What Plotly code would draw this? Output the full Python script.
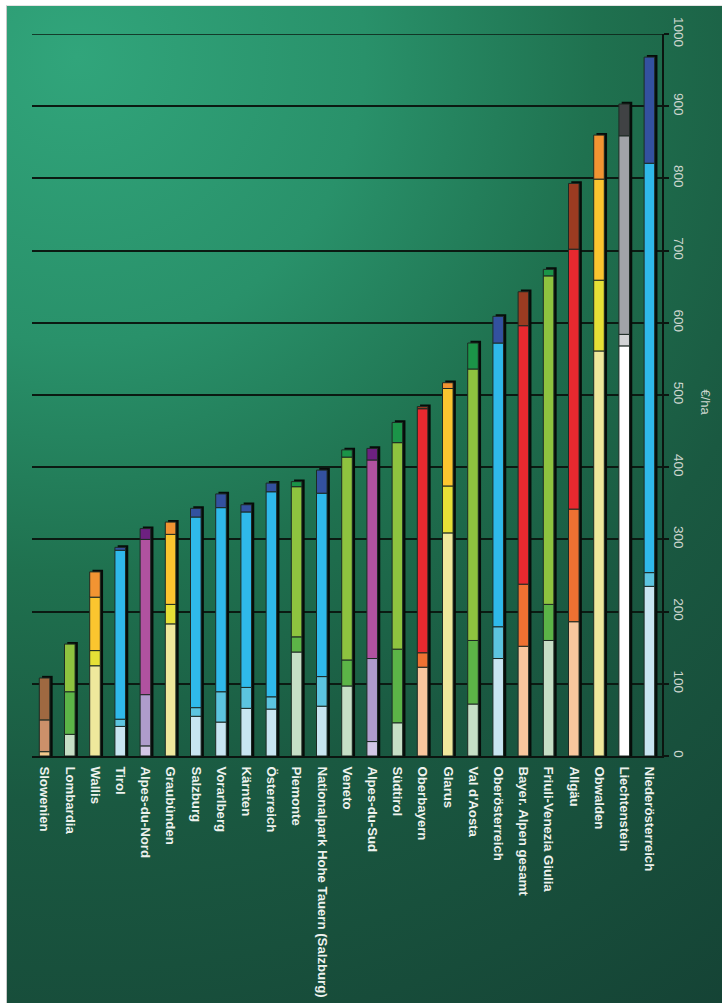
import base64
import plotly.graph_objects as go

# ---------------- data ----------------
categories = [
    "Slowenien", "Lombardia", "Wallis", "Tirol", "Alpes-du-Nord", "Graubünden",
    "Salzburg", "Vorarlberg", "Kärnten", "Österreich", "Piemonte",
    "Nationalpark Hohe Tauern (Salzburg)", "Veneto", "Alpes-du-Sud", "Südtirol",
    "Oberbayern", "Glarus", "Val d'Aosta", "Oberösterreich", "Bayer. Alpen gesamt",
    "Friuli-Venezia Giulia", "Allgäu", "Obwalden", "Liechtenstein", "Niederösterreich",
]
# country group of each region (selects the colour family)
groups = [
    "SI", "IT", "CH", "AT", "FR", "CH", "AT", "AT", "AT", "AT", "IT",
    "AT", "IT", "FR", "IT", "BY", "CH", "IT", "AT", "BY",
    "IT", "BY", "CH", "LI", "AT",
]
# stacked components (€/ha), bottom to top
part1 = [6, 30, 125, 41, 14, 183, 55, 47, 66, 65, 144, 69, 97, 20, 46, 123, 309, 72, 135, 152, 160, 186, 561, 568, 235]
part2 = [44, 59, 21, 10, 71, 27, 12, 42, 29, 17, 21, 41, 36, 115, 102, 20, 65, 88, 44, 86, 50, 156, 98, 16, 19]
part3 = [58, 66, 74, 234, 215, 97, 264, 255, 243, 284, 208, 254, 281, 275, 286, 338, 135, 376, 393, 358, 455, 360, 140, 275, 567]
part4 = [0, 0, 35, 4, 15, 17, 12, 19, 10, 12, 7, 32, 10, 16, 28, 3, 8, 36, 37, 47, 9, 91, 61, 44, 147]

y_ticks = [0, 100, 200, 300, 400, 500, 600, 700, 800, 900, 1000]
y_title = "€/ha"

palette = {
    "AT": ["#c8e5f1", "#5cc4df", "#2fb9ea", "#33519f"],
    "CH": ["#efe89c", "#e6e036", "#fbc52f", "#f29432"],
    "IT": ["#c6dfc6", "#5cb447", "#8ec33f", "#1b9448"],
    "FR": ["#d2c6e6", "#ae9ccb", "#b0529f", "#6d2181"],
    "BY": ["#f8c69e", "#ee7132", "#e8292f", "#9b3b21"],
    "SI": ["#f1c98c", "#cb906a", "#9f6941", "#9f6941"],
    "LI": ["#ffffff", "#d2d3d5", "#a1a3a8", "#404244"],
}

# ---------------- figure ----------------
W, H = 722, 1003
ML, MR, MT, MB = 32, 60, 34, 247
PW, PH = W - ML - MR, H - MT - MB

svg = (
    '<svg xmlns="http://www.w3.org/2000/svg" width="715" height="997" viewBox="0 0 715 997" '
    'preserveAspectRatio="none">'
    '<defs><radialGradient id="g" cx="70" cy="50" r="1150" gradientUnits="userSpaceOnUse">'
    '<stop offset="0" stop-color="#31a57b"/>'
    '<stop offset="0.25" stop-color="#29916a"/>'
    '<stop offset="0.45" stop-color="#1f714f"/>'
    '<stop offset="0.65" stop-color="#1a5941"/>'
    '<stop offset="1" stop-color="#154335"/>'
    '</radialGradient></defs>'
    '<rect width="715" height="997" fill="url(#g)"/></svg>'
)
bg_uri = "data:image/svg+xml;base64," + base64.b64encode(svg.encode()).decode()

fig = go.Figure()

totals = [a + b + c + d for a, b, c, d in zip(part1, part2, part3, part4)]
BW = 0.42
fig.add_trace(go.Bar(
    x=categories, y=[t + 3 for t in totals], base=[0] * len(totals),
    width=BW, offset=-BW / 2 + 0.11,
    marker=dict(color="#060c09", line=dict(width=0)),
    hoverinfo="skip", showlegend=False,
))

parts = [part1, part2, part3, part4]
cum = [0] * len(categories)
for k, part in enumerate(parts):
    ys = [v if v > 0 else None for v in part]
    fig.add_trace(go.Bar(
        x=categories, y=ys, base=list(cum),
        width=BW, offset=-BW / 2,
        marker=dict(color=[palette[g][k] for g in groups],
                    line=dict(color="#1d2b24", width=1)),
        showlegend=False,
    ))
    cum = [c + v for c, v in zip(cum, part)]

fig.add_layout_image(dict(
    source=bg_uri, xref="paper", yref="paper",
    x=(7 - ML) / PW, y=(H - MB - 6) / PH,
    sizex=(W - 7) / PW, sizey=(H - 6) / PH,
    xanchor="left", yanchor="top", sizing="stretch", layer="below",
))

fig.add_annotation(
    text=y_title, textangle=90, showarrow=False,
    xref="paper", yref="paper",
    x=(715 - ML) / PW, y=(H - MB - 402) / PH,
    font=dict(family="Liberation Sans", size=13, color="#cdd6cf"),
)

# top gridline (value 1000)
fig.add_shape(type="line", xref="paper", yref="y", layer="below",
              x0=0, x1=1, y0=y_ticks[-1], y1=y_ticks[-1],
              line=dict(color="#0b1a12", width=1.5))

# thin border lines at the panel edge
fig.add_shape(type="line", xref="paper", yref="paper",
              x0=(6.5 - ML) / PW, x1=(6.5 - ML) / PW,
              y0=(H - MB - 5) / PH, y1=-MB / PH,
              line=dict(color="#c8c8c8", width=1))
fig.add_shape(type="line", xref="paper", yref="paper",
              x0=(6.5 - ML) / PW, x1=(W - ML) / PW,
              y0=(H - MB - 5.5) / PH, y1=(H - MB - 5.5) / PH,
              line=dict(color="#e4e4e4", width=1))

fig.update_layout(
    width=W, height=H,
    margin=dict(l=ML, r=MR, t=MT, b=MB, pad=0, autoexpand=False),
    paper_bgcolor="#ffffff",
    plot_bgcolor="rgba(0,0,0,0)",
    barmode="overlay",
    showlegend=False,
    font=dict(family="Liberation Sans"),
    xaxis=dict(
        type="category", range=[-0.5, len(categories) - 0.5],
        automargin=False,
        tickangle=90, showgrid=False, zeroline=False,
        showline=True, linecolor="#0b1510", linewidth=1.5,
        ticks="", ticklabelstandoff=6,
        tickfont=dict(family="Liberation Sans", size=13.2, color="#eef2ee", weight="bold"),
    ),
    yaxis=dict(
        range=[0, 1000], side="right", tickvals=y_ticks,
        automargin=False,
        showgrid=True, gridcolor="#0b1a12", gridwidth=1.5,
        showline=True, linecolor="#0b1510", linewidth=1.5,
        zeroline=False,
        ticks="outside", ticklen=5, tickcolor="#0b1510", tickwidth=1.5,
        tickangle=90,
        tickfont=dict(family="Liberation Sans", size=13.5, color="#cdd6cf"),
    ),
)

fig.write_html("out.html")
